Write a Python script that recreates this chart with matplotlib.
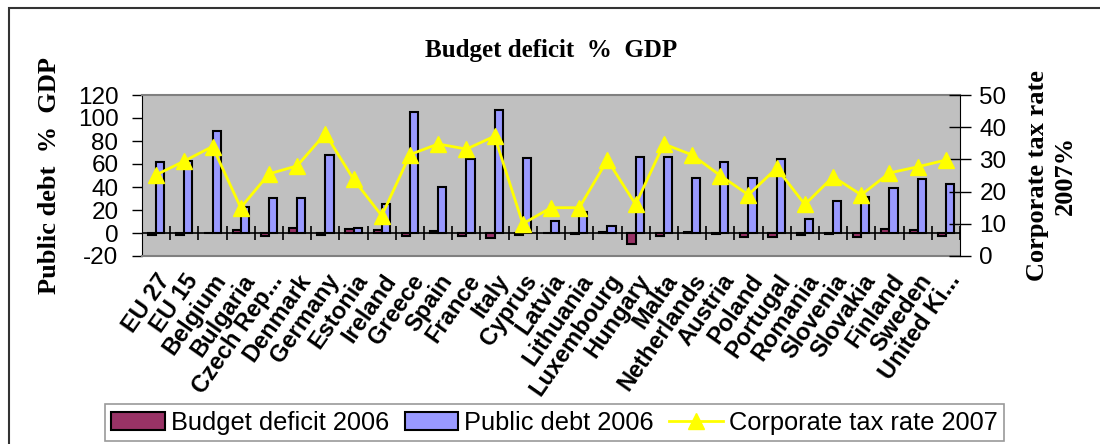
import matplotlib.pyplot as plt
import numpy as np
from matplotlib.patches import Rectangle

# Data
countries = ["EU 27", "EU 15", "Belgium", "Bulgaria", "Czech Rep...", "Denmark",
             "Germany", "Estonia", "Ireland", "Greece", "Spain", "France", "Italy",
             "Cyprus", "Latvia", "Lithuania", "Luxembourg", "Hungary", "Malta",
             "Netherlands", "Austria", "Poland", "Portugal", "Romania", "Slovenia",
             "Slovakia", "Finland", "Sweden", "United Ki..."]
budget_deficit = [-1.5, -1.6, 0.4, 3.0, -2.9, 4.6, -1.6, 3.6, 2.9, -2.6, 1.8, -2.5, -4.4,
                  -1.5, -0.2, -0.5, 0.7, -9.2, -2.5, 0.5, -1.1, -3.9, -3.9, -1.9, -1.2,
                  -3.7, 3.9, 2.5, -2.7]
public_debt = [62, 63, 89, 23, 30, 30, 68, 4, 25, 105, 40, 64, 107, 65, 10, 18, 6.5,
               66, 66, 48, 62, 47.5, 64.5, 12, 27.5, 31, 39, 47, 43]
corp_tax = [25.2, 29.5, 34, 15, 25.5, 28, 38, 23.8, 12.5, 31.5, 34.8, 33.2, 37.2, 10,
            15, 15, 29.8, 16, 34.8, 31.4, 25, 19, 27.3, 16, 24.6, 19, 25.8, 27.7, 29.8]

plt.rcParams['font.family'] = ['Liberation Sans', 'DejaVu Sans']
serif = ['Liberation Serif', 'DejaVu Serif']

fig = plt.figure(figsize=(11, 4.44), dpi=100)
W, H = 1100, 444
ax = fig.add_axes([142 / W, 1 - 256 / H, (960 - 142) / W, (256 - 95) / H])
ax.set_facecolor('#C0C0C0')

x = np.arange(len(countries))
w = 0.29
b1 = ax.bar(x - w / 2, budget_deficit, w, color='#993366', edgecolor='black',
            linewidth=1.5, label='Budget deficit 2006', zorder=3)
b2 = ax.bar(x + w / 2, public_debt, w, color='#9999FF', edgecolor='black',
            linewidth=1.5, label='Public debt 2006', zorder=3)

ymin, ymax = -20, 120
ax.set_ylim(ymin, ymax)
ax.set_xlim(-0.5, len(countries) - 0.5)
ax.set_yticks(range(-20, 121, 20))
ax.tick_params(axis='y', direction='out', length=7, width=1, labelsize=17.5, pad=10)
ax.set_yticklabels([str(v) for v in range(-20, 121, 20)])
ax.set_xticks(x)
ax.set_xticklabels(countries, rotation=55, ha='right', va='top',
                   rotation_mode='anchor', fontsize=17, fontweight='bold')
ax.tick_params(axis='x', length=0, pad=10)
for s in ['top', 'bottom']:
    ax.spines[s].set_color('#808080')
    ax.spines[s].set_linewidth(1.5)
ax.spines['left'].set_color('black')
ax.spines['right'].set_visible(False)

# category axis crossing at zero, with tick marks between categories
ax.axhline(0, color='black', linewidth=1.2, zorder=2)
ax.vlines(np.arange(len(countries) + 1) - 0.5, -6.5, 6.5, color='black',
          linewidth=1.2, zorder=2)

ax.set_ylabel('Public debt  %  GDP', fontsize=19, fontweight='bold', family=serif,
              labelpad=12)

ax2 = ax.twinx()
ln, = ax2.plot(x, corp_tax, color='#FFFF00', linewidth=2, marker='^',
               markersize=12, label='Corporate tax rate 2007', zorder=4)
ax2.set_ylim(0, 50)
ax2.set_yticks(range(0, 51, 10))
ax2.tick_params(axis='y', direction='inout', length=16, width=1, labelsize=17.5, pad=6)
ax2.spines['right'].set_color('black')
ax2.spines['left'].set_visible(False)
ax2.spines['top'].set_visible(False)
ax2.spines['bottom'].set_visible(False)
ax2.set_ylabel('Corporate tax rate\n2007%', fontsize=19, fontweight='bold',
               family=serif, rotation=90, labelpad=14, linespacing=1.25)

fig.text(551 / W, 1 - 50 / H, 'Budget deficit  %  GDP', ha='center', va='center',
         fontsize=18, fontweight='bold', family=serif)

leg = fig.legend([b1, b2, ln], [b1.get_label(), b2.get_label(), ln.get_label()],
                 loc='lower left', bbox_to_anchor=(105 / W, 3 / H), ncol=3,
                 fontsize=18.3, frameon=True, fancybox=False, edgecolor='#808080',
                 handlelength=2.1, handleheight=0.7, handletextpad=0.25,
                 columnspacing=0.6, borderpad=0.25, borderaxespad=0)
leg.get_frame().set_linewidth(1.2)

fig.patches.append(Rectangle((9 / W, -0.1), 1.2, 1.1 - 8 / H,
                             transform=fig.transFigure, fill=False,
                             edgecolor='#333333', linewidth=1.5))

fig.savefig('out.png', dpi=100)
